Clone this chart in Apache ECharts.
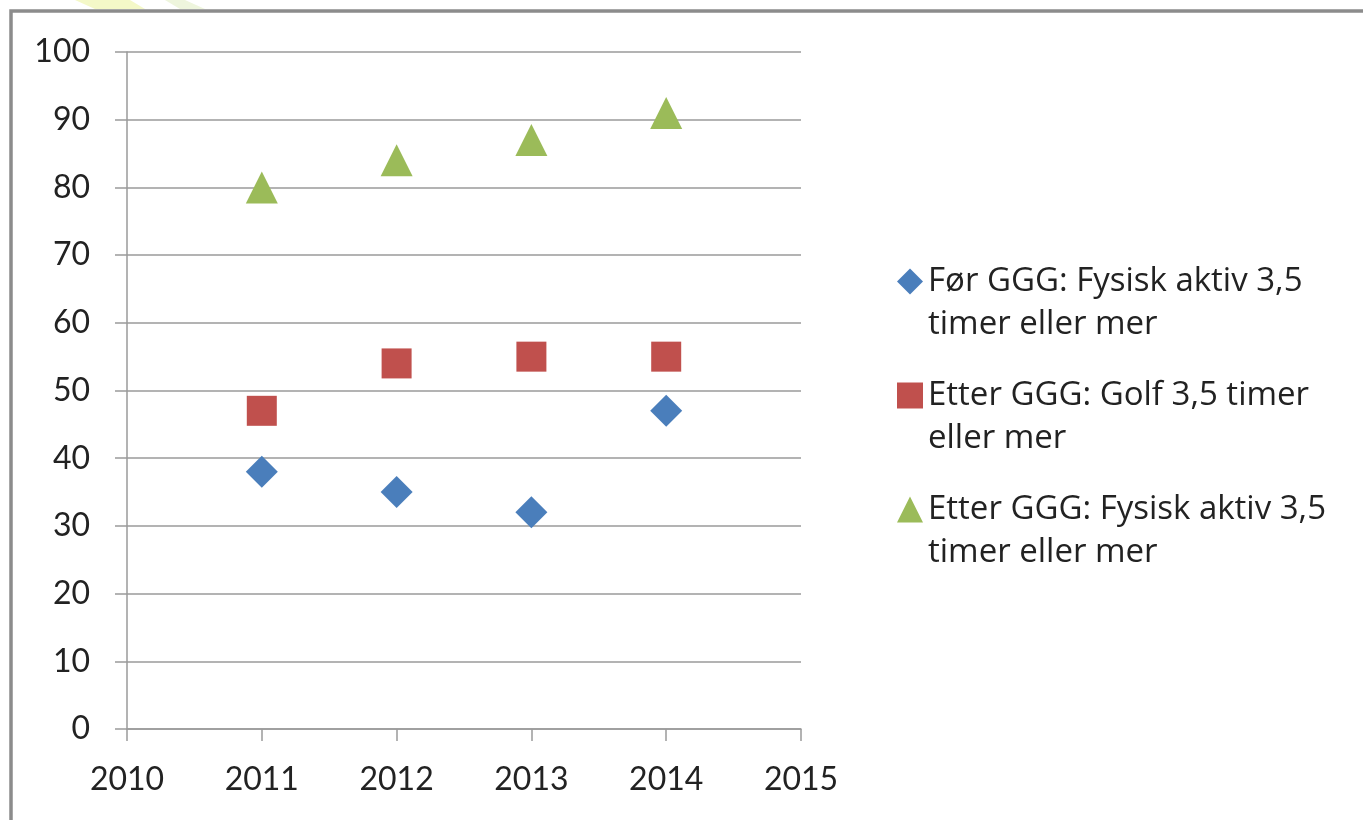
<!DOCTYPE html>
<html>
<head>
<meta charset="utf-8">
<script src="https://cdn.jsdelivr.net/npm/echarts@6/dist/echarts.min.js"></script>
<style>
html,body{margin:0;padding:0;background:#fff;}
#chart{width:1363px;height:820px;}
</style>
</head>
<body>
<div id="chart"></div>
<script>
var years = [2011, 2012, 2013, 2014];
var forFysisk = [38, 35, 32, 47];
var etterGolf = [47, 54, 55, 55];
var etterFysisk = [80, 84, 87, 91];
var seriesNames = [
  'Før GGG: Fysisk aktiv 3,5\ntimer eller mer',
  'Etter GGG: Golf 3,5 timer\neller mer',
  'Etter GGG: Fysisk aktiv 3,5\ntimer eller mer'
];
var xTicks = { min: 2010, max: 2015, interval: 1 };
var yTicks = { min: 0, max: 100, interval: 10 };

function pairs(vals) { return years.map(function (y, i) { return [y, vals[i]]; }); }

var AXFONT = 'Lato, "Open Sans", sans-serif';
var LGFONT = '"Open Sans", Lato, sans-serif';
var chart = echarts.init(document.getElementById('chart'), null, { renderer: 'canvas' });
chart.setOption({
  backgroundColor: '#ffffff',
  animation: false,
  grid: { left: 127, right: 562, top: 52, bottom: 91, containLabel: false },
  xAxis: {
    type: 'value', min: xTicks.min, max: xTicks.max, interval: xTicks.interval,
    axisLine: { show: true, onZero: false, lineStyle: { color: '#9a9a9a', width: 1.5 } },
    axisTick: { show: true, length: 12, lineStyle: { color: '#9a9a9a', width: 1.5 } },
    axisLabel: { margin: 35, fontFamily: AXFONT, fontSize: 32, color: '#222', formatter: function (v) { return String(v); } },
    splitLine: { show: false }
  },
  yAxis: {
    type: 'value', min: yTicks.min, max: yTicks.max, interval: yTicks.interval,
    axisLine: { show: true, onZero: false, lineStyle: { color: '#9a9a9a', width: 1.5 } },
    axisTick: { show: true, length: 12, lineStyle: { color: '#9a9a9a', width: 1.5 } },
    axisLabel: { margin: 37, fontFamily: AXFONT, fontSize: 32, color: '#222' },
    splitLine: { show: true, lineStyle: { color: '#9a9a9a', width: 1.5 } }
  },
  legend: {
    orient: 'vertical', left: 897, top: 217, padding: 0,
    itemWidth: 26, itemHeight: 26, itemGap: -15,
    formatter: function (name) { return '\n' + name; },
    textStyle: { fontFamily: LGFONT, fontSize: 33, color: '#222', lineHeight: 43 },
    data: [
      { name: seriesNames[0], icon: 'diamond' },
      { name: seriesNames[1], icon: 'rect' },
      { name: seriesNames[2], icon: 'triangle' }
    ]
  },
  graphic: [
    { type: 'polygon', silent: true, z: -1, shape: { points: [[75, 0], [130, 0], [145, 9], [95, 9]] }, style: { fill: '#f4f8c8' } },
    { type: 'polygon', silent: true, z: -1, shape: { points: [[165, 0], [185, 0], [205, 9], [180, 9]] }, style: { fill: '#eef5dd' } },
    { type: 'rect', silent: true, shape: { x: 11, y: 11, width: 1400, height: 900 }, style: { fill: null, stroke: '#8c8c8c', lineWidth: 3.5 } }
  ],
  series: [
    { name: seriesNames[0], type: 'scatter', symbol: 'diamond', symbolSize: 32, itemStyle: { color: '#4a7ebb', opacity: 1 }, data: pairs(forFysisk) },
    { name: seriesNames[1], type: 'scatter', symbol: 'rect', symbolSize: 30, itemStyle: { color: '#c0504d', opacity: 1 }, data: pairs(etterGolf) },
    { name: seriesNames[2], type: 'scatter', symbol: 'triangle', symbolSize: 32, itemStyle: { color: '#9bbb59', opacity: 1 }, data: pairs(etterFysisk) }
  ]
});
</script>
</body>
</html>
